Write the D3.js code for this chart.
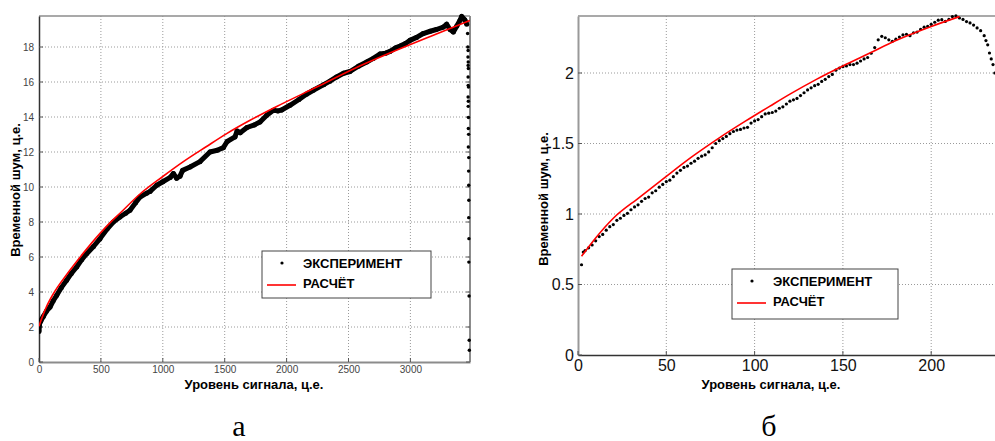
<!DOCTYPE html>
<html><head><meta charset="utf-8">
<script src="https://cdn.jsdelivr.net/npm/d3@7"></script>
<style>
html,body{margin:0;padding:0;background:#fff;}
svg{display:block;}
</style></head>
<body>
<svg id="chart" width="995" height="441"></svg>
<script>
// ---------- Data: chart (а) ----------
const aXTicks = [0, 500, 1000, 1500, 2000, 2500, 3000];
const aYTicks = [0, 2, 4, 6, 8, 10, 12, 14, 16, 18];
const aExpX = [0,5,15,35,60,89,115,143,180,223,260,304,345,385,440,493,550,600,654,700,735,780,816,870,897,951,1000,1060,1085,1112,1139,1160,1220,1300,1381,1440,1489,1520,1583,1600,1625,1680,1740,1785,1840,1893,1930,1960,2027,2100,2160,2216,2300,2350,2404,2460,2512,2580,2647,2700,2754,2800,2835,2880,2916,2960,2997,3050,3104,3160,3210,3266,3293,3320,3347,3375,3401,3414,3440,3455];
const aExpY = [1.75,2.2,2.35,2.6,2.9,3.14,3.5,3.81,4.25,4.67,5.05,5.43,5.85,6.19,6.6,7.05,7.6,8.0,8.29,8.5,8.67,9.1,9.43,9.65,9.75,10.1,10.3,10.55,10.77,10.5,10.62,10.95,11.14,11.45,12.0,12.1,12.25,12.6,12.86,13.2,13.1,13.4,13.55,13.71,14.1,14.38,14.35,14.4,14.67,15.0,15.3,15.53,15.85,16.05,16.29,16.5,16.6,16.9,17.14,17.35,17.6,17.65,17.75,17.95,18.05,18.2,18.38,18.55,18.77,18.9,19.0,19.14,19.3,19.0,18.86,19.2,19.53,19.75,19.55,19.3];
const aTailX = [3462,3464,3466,3465,3467,3466,3468,3466,3467,3469,3466,3468,3467,3469,3468,3470,3468,3471,3470,3471,3472,3471,3473,3472,3474,3475,3476];
const aTailY = [18.77,18.0,17.8,17.43,17.14,16.95,16.77,16.29,15.81,15.71,15.14,14.9,14.61,13.97,13.34,13.01,12.29,11.68,10.91,10.1,9.24,8.25,7.05,5.71,3.77,1.24,0.67];
const aCalcX = [0,25,60,120,224,350,493,573,654,816,1000,1166,1350,1516,1705,1920,2243,2566,2916,3200,3480];
const aCalcY = [2.05,2.55,3.15,3.95,5.0,6.15,7.35,7.95,8.5,9.6,10.6,11.45,12.3,13.05,13.81,14.6,15.71,16.83,17.9,18.72,19.52];

// ---------- Data: chart (б) ----------
const bXTicks = [0, 50, 100, 150, 200];
const bYTicks = [0, 0.5, 1, 1.5, 2];
const bYTickLabels = ["0", "0.5", "1", "1.5", "2"];
const bExpX = [2,3,4,6,8,10,12,14,16,18,20,22,24,26,28,30,32,34,36,38,40,42,44,46,48,50,52,54,56,58,60,62,64,66,68,70,72,74,76,78,80,82,84,86,88,90,92,94,96,98,100,102,104,106,108,110,112,114,116,118,120,122,124,126,128,130,132,134,136,138,140,142,144,146,148,150,152,154,156,158,160,162,164,166,168,170,172,174,176,178,180,182,184,186,188,190,192,194,196,198,200,202,204,206,208,210,212,214,216,218,220,222,224,226,228,230,231,232,233,234,235,236];
const bExpY = [0.64,0.73,0.74,0.76,0.78,0.81,0.84,0.855,0.885,0.91,0.925,0.955,0.97,0.99,1.005,1.03,1.05,1.065,1.09,1.11,1.12,1.15,1.165,1.19,1.21,1.23,1.24,1.265,1.29,1.31,1.33,1.34,1.36,1.375,1.395,1.41,1.42,1.44,1.47,1.5,1.52,1.535,1.55,1.57,1.585,1.595,1.6,1.61,1.615,1.645,1.66,1.67,1.69,1.71,1.715,1.72,1.73,1.75,1.76,1.78,1.8,1.81,1.82,1.84,1.86,1.88,1.895,1.91,1.92,1.94,1.955,1.975,1.99,2.02,2.035,2.045,2.05,2.06,2.06,2.07,2.085,2.1,2.11,2.14,2.18,2.235,2.26,2.25,2.235,2.225,2.24,2.255,2.27,2.275,2.265,2.285,2.29,2.31,2.325,2.33,2.345,2.36,2.375,2.378,2.366,2.38,2.4,2.405,2.39,2.38,2.365,2.355,2.34,2.32,2.3,2.265,2.23,2.2,2.142,2.1,2.06,2.0];
const bCalcX = [2,10,20,35,50,65,80,95,108.7,120,135,150,165,180,200,216];
const bCalcY = [0.70,0.83,0.97,1.12,1.267,1.41,1.54,1.66,1.765,1.85,1.955,2.05,2.14,2.23,2.33,2.40];

const legendLabels = ["ЭКСПЕРИМЕНТ", "РАСЧЁТ"];
const xTitle = "Уровень сигнала, ц.е.";
const yTitle = "Временной шум, ц.е.";
const panelLabels = ["а", "б"];

const svg = d3.select("#chart");
const SANS = "'Liberation Sans', Arial, sans-serif";

function panel(cfg) {
  const g = svg.append("g");
  const x = d3.scaleLinear().domain(cfg.xDomain).range([cfg.left, cfg.right]);
  const y = d3.scaleLinear().domain(cfg.yDomain).range([cfg.bottom, cfg.top]);

  // grid
  g.append("g").selectAll("line").data(cfg.xTicks.filter(v => v > cfg.xDomain[0])).join("line")
    .attr("x1", d => x(d)).attr("x2", d => x(d)).attr("y1", cfg.top).attr("y2", cfg.bottom)
    .attr("stroke", "#9a9a9a").attr("stroke-width", 1).attr("stroke-dasharray", "1,2");
  g.append("g").selectAll("line").data(cfg.yTicks.filter(v => v > cfg.yDomain[0])).join("line")
    .attr("y1", d => y(d)).attr("y2", d => y(d)).attr("x1", cfg.left).attr("x2", cfg.right)
    .attr("stroke", "#9a9a9a").attr("stroke-width", 1).attr("stroke-dasharray", "1,2");

  // frame
  g.append("line").attr("x1", cfg.left).attr("x2", cfg.right).attr("y1", cfg.top).attr("y2", cfg.top)
    .attr("stroke", "#8c8c8c").attr("stroke-width", 1.6);
  if (cfg.rightBorder) g.append("line").attr("x1", cfg.right).attr("x2", cfg.right).attr("y1", cfg.top).attr("y2", cfg.bottom)
    .attr("stroke", "#8c8c8c").attr("stroke-width", 2);

  // axes
  const xAxis = d3.axisBottom(x).tickValues(cfg.xTicks).tickSize(0).tickPadding(cfg.xPad).tickFormat(d3.format("d"));
  const yAxis = d3.axisLeft(y).tickValues(cfg.yTicks).tickSize(0).tickPadding(cfg.yPad)
    .tickFormat((d, i) => cfg.yLabels ? cfg.yLabels[i] : d3.format("d")(d));
  const gx = g.append("g").attr("transform", `translate(0,${cfg.bottom})`).call(xAxis);
  const gy = g.append("g").attr("transform", `translate(${cfg.left},0)`).call(yAxis);
  gx.select(".domain").attr("stroke", cfg.xAxisColor).attr("stroke-width", cfg.xAxisW);
  gy.select(".domain").attr("stroke", cfg.yAxisColor).attr("stroke-width", cfg.yAxisW);
  [gx, gy].forEach(a => a.selectAll("text").attr("font-family", SANS).attr("font-size", cfg.tickFont).attr("fill", cfg.tickColor));
  // inward tick marks
  g.append("g").selectAll("line").data(cfg.xTicks).join("line")
    .attr("x1", d => x(d)).attr("x2", d => x(d)).attr("y1", cfg.bottom).attr("y2", cfg.bottom - 4)
    .attr("stroke", "#555").attr("stroke-width", 1);
  g.append("g").selectAll("line").data(cfg.yTicks).join("line")
    .attr("x1", cfg.left).attr("x2", cfg.left + 4).attr("y1", d => y(d)).attr("y2", d => y(d))
    .attr("stroke", "#555").attr("stroke-width", 1);
  if (cfg.rightBorder) g.append("g").selectAll("line").data(cfg.yTicks).join("line")
    .attr("x1", cfg.right - 4).attr("x2", cfg.right).attr("y1", d => y(d)).attr("y2", d => y(d))
    .attr("stroke", "#555").attr("stroke-width", 1);

  // clip
  const clipId = "clip" + cfg.id;
  svg.append("clipPath").attr("id", clipId).append("rect")
    .attr("x", cfg.left).attr("y", cfg.top - 3).attr("width", cfg.right - cfg.left + 3).attr("height", cfg.bottom - cfg.top + 3);
  const plot = g.append("g").attr("clip-path", `url(#${clipId})`);

  // experiment
  const exp = cfg.expX.map((v, i) => [v, cfg.expY[i]]);
  if (cfg.thickLine) {
    plot.append("path").datum(exp)
      .attr("d", d3.line().x(d => x(d[0])).y(d => y(d[1])))
      .attr("fill", "none").attr("stroke", "#000").attr("stroke-width", 5).attr("stroke-linejoin", "round");
  }
  plot.append("g").selectAll("circle").data(exp).join("circle")
    .attr("cx", d => x(d[0])).attr("cy", d => y(d[1])).attr("r", cfg.dotR).attr("fill", "#000");
  if (cfg.tailX) {
    const tail = cfg.tailX.map((v, i) => [v, cfg.tailY[i]]);
    plot.append("g").selectAll("circle").data(tail).join("circle")
      .attr("cx", d => x(d[0])).attr("cy", d => y(d[1])).attr("r", 1.7).attr("fill", "#000");
  }
  // calculation
  const calc = cfg.calcX.map((v, i) => [v, cfg.calcY[i]]);
  plot.append("path").datum(calc)
    .attr("d", d3.line().curve(d3.curveMonotoneX).x(d => x(d[0])).y(d => y(d[1])))
    .attr("fill", "none").attr("stroke", "#ff0000").attr("stroke-width", 1.6);

  // titles
  g.append("text").attr("x", cfg.xTitleX).attr("y", cfg.xTitleY).attr("text-anchor", "middle")
    .attr("font-family", SANS).attr("font-weight", "bold").attr("font-size", 13).attr("fill", "#000").text(xTitle);
  g.append("text").attr("transform", `translate(${cfg.yTitleX},${cfg.yTitleY}) rotate(-90)`).attr("text-anchor", "middle")
    .attr("font-family", SANS).attr("font-weight", "bold").attr("font-size", 13).attr("fill", "#000").text(yTitle);

  // legend
  const L = cfg.legend;
  const lg = g.append("g");
  lg.append("rect").attr("x", L.x).attr("y", L.y).attr("width", L.w).attr("height", L.h)
    .attr("fill", "#fff").attr("stroke", "#444").attr("stroke-width", 1);
  lg.append("circle").attr("cx", L.x + 20).attr("cy", L.y + 12).attr("r", 1.6).attr("fill", "#000");
  lg.append("line").attr("x1", L.x + 5).attr("x2", L.x + 34).attr("y1", L.y + 34).attr("y2", L.y + 34)
    .attr("stroke", "#ff0000").attr("stroke-width", 1.6);
  lg.selectAll("text").data(legendLabels).join("text")
    .attr("x", L.x + 41).attr("y", (d, i) => L.y + 17 + i * 20)
    .attr("font-family", SANS).attr("font-weight", "bold").attr("font-size", 13).attr("fill", "#000").text(d => d);

  // panel letter
  svg.append("text").attr("x", cfg.letterX).attr("y", 436).attr("text-anchor", "middle")
    .attr("font-family", "'Liberation Serif', 'Times New Roman', serif").attr("font-size", 30).attr("fill", "#000")
    .text(cfg.letter);
}

panel({
  id: "a", left: 39, right: 470, top: 16, bottom: 362,
  xDomain: [0, (470 - 39) / 61.9 * 500], yDomain: [0, 346 / 17.5],
  xTicks: aXTicks, yTicks: aYTicks, xPad: 4, yPad: 5,
  tickFont: 10, tickColor: "#444",
  xAxisColor: "#8c8c8c", xAxisW: 2, yAxisColor: "#333", yAxisW: 1.5, rightBorder: true,
  expX: aExpX, expY: aExpY, tailX: aTailX, tailY: aTailY, thickLine: true, dotR: 2.5,
  calcX: aCalcX, calcY: aCalcY,
  xTitleX: 254, xTitleY: 389, yTitleX: 20, yTitleY: 190,
  legend: { x: 262, y: 251, w: 169, h: 47 },
  letter: panelLabels[0], letterX: 239
});

panel({
  id: "b", left: 578, right: 996, top: 16, bottom: 355,
  xDomain: [0, (996 - 578) / 88.3 * 50], yDomain: [0, 339 / 141],
  xTicks: bXTicks, yTicks: bYTicks, yLabels: bYTickLabels, xPad: 5, yPad: 4,
  tickFont: 16, tickColor: "#111",
  xAxisColor: "#333", xAxisW: 1.5, yAxisColor: "#999", yAxisW: 2, rightBorder: false,
  expX: bExpX, expY: bExpY, thickLine: false, dotR: 1.6,
  calcX: bCalcX, calcY: bCalcY,
  xTitleX: 771, xTitleY: 389, yTitleX: 548, yTitleY: 199,
  legend: { x: 732, y: 269, w: 166, h: 50 },
  letter: panelLabels[1], letterX: 769
});
</script>
</body></html>
